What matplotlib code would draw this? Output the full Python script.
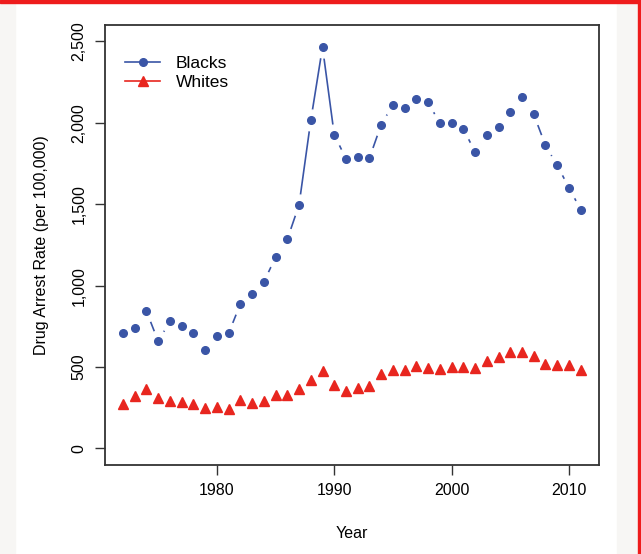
import numpy as np
import matplotlib.pyplot as plt
from matplotlib.lines import Line2D
from matplotlib.ticker import FuncFormatter
from matplotlib.patches import Rectangle

plt.rcParams['font.family'] = ['Liberation Sans', 'DejaVu Sans']

# Datos
years = np.arange(1972, 2012)
blacks = [709, 738, 842, 658, 781, 752, 709, 607, 689, 707,
          887, 947, 1022, 1174, 1284, 1495, 2014, 2464, 1926, 1779,
          1791, 1783, 1988, 2110, 2088, 2143, 2125, 1996, 1996, 1963,
          1820, 1922, 1975, 2063, 2157, 2051, 1861, 1738, 1601, 1466]
whites = [272, 321, 362, 309, 292, 284, 274, 251, 253, 241,
          296, 280, 294, 331, 327, 364, 419, 474, 390, 351,
          372, 386, 456, 480, 480, 505, 491, 487, 501, 497,
          491, 538, 562, 593, 591, 566, 519, 513, 513, 480]
xticks = [1980, 1990, 2000, 2010]
yticks = [0, 500, 1000, 1500, 2000, 2500]

blue = '#3a55a6'
red = '#e8261f'

fig = plt.figure(figsize=(6.41, 5.54), dpi=100)
fig.patch.set_facecolor('white')

# Marco de la imagen
fig.patches.append(Rectangle((0, 0), 15/641, 1, transform=fig.transFigure,
                             color='#f7f6f4', zorder=0))
fig.patches.append(Rectangle((617/641, 0), 22/641, 1, transform=fig.transFigure,
                             color='#f7f6f4', zorder=0))
fig.patches.append(Rectangle((638/641, 0), 3/641, 1, transform=fig.transFigure,
                             color='#ee1c1c', zorder=1))
fig.patches.append(Rectangle((0, 1 - 3/554), 1, 3/554, transform=fig.transFigure,
                             color='#ee1c1c', zorder=1))

ax = fig.add_axes([104.7/641, 1 - 464.7/554, (599 - 104.7)/641, (464.7 - 25)/554])

# Lineas con huecos alrededor de los puntos (tipo "b" de R)
ax.plot(years, blacks, color=blue, lw=1.2, zorder=1)
ax.plot(years, whites, color=red, lw=1.2, zorder=1)
ax.plot(years, blacks, 'o', color='white', ms=15, zorder=2)
ax.plot(years, whites, 'o', color='white', ms=15, zorder=2)
ax.plot(years, blacks, 'o', color=blue, ms=5.5, zorder=3)
ax.plot(years, whites, '^', color=red, ms=6.5, zorder=3)

ax.set_xlim(1970.44, 2012.56)
ax.set_ylim(-100, 2600)
ax.set_xticks(xticks)
ax.set_yticks(yticks)
ax.yaxis.set_major_formatter(FuncFormatter(lambda v, p: f'{int(v):,}'))
for lab in ax.get_yticklabels():
    lab.set_rotation(90)
    lab.set_va('center')
ax.tick_params(direction='out', length=7, width=1, color='#333333',
               labelsize=11.5, pad=6)
for s in ax.spines.values():
    s.set_color('#333333')
    s.set_linewidth(1.3)

ax.set_xlabel('Year', fontsize=11.5, labelpad=20)
ax.set_ylabel('Drug Arrest Rate (per 100,000)', fontsize=11.5, labelpad=16)

handles = [Line2D([], [], color=blue, marker='o', ms=5.5, lw=1.2),
           Line2D([], [], color=red, marker='^', ms=6.5, lw=1.2)]
ax.legend(handles, ['Blacks', 'Whites'], loc='upper left', frameon=False,
          fontsize=12.5, handlelength=2.0, handletextpad=0.9,
          labelspacing=0.2, bbox_to_anchor=(0.01, 0.965))

fig.savefig('out.png', dpi=100)
